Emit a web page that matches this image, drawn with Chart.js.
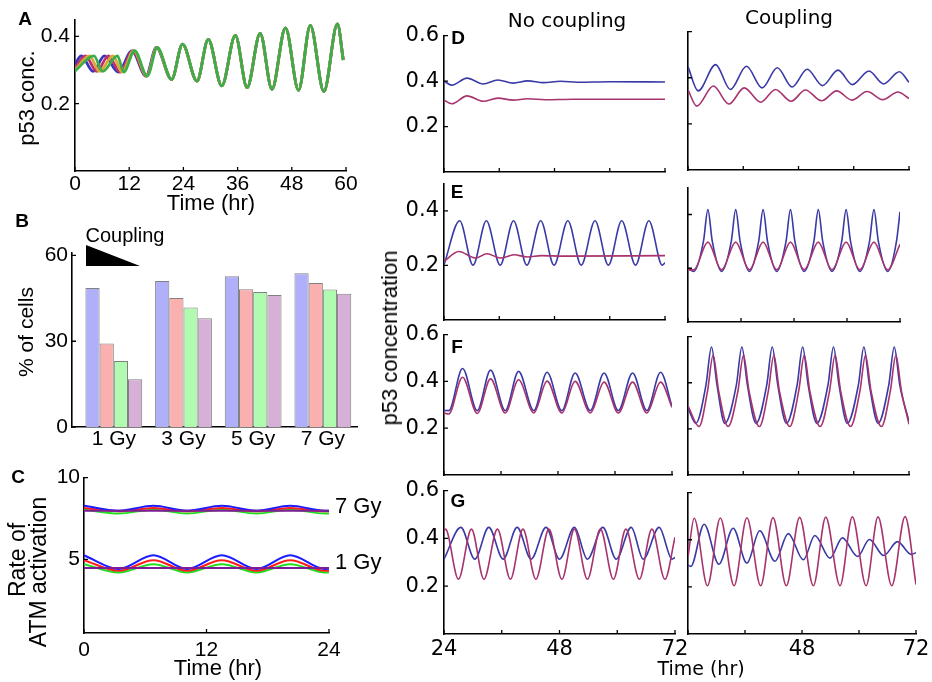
<!DOCTYPE html>
<html>
<head>
<meta charset="utf-8">
<script src="https://cdn.jsdelivr.net/npm/chart.js@4.4.1/dist/chart.umd.min.js"></script>
<style>
  body { margin: 0; background: #fff; width: 932px; height: 682px; position: relative; overflow: hidden;
         font-family: "Liberation Sans", Arial, sans-serif; }
  canvas { position: absolute; }
  .lbl { position: absolute; white-space: nowrap; color: #000; line-height: 1; }
  svg { position: absolute; left: 0; top: 0; }
</style>
</head>
<body>
<svg width="932" height="682"><polygon points="86,245 86,266 140,266" fill="#000"/></svg>
<script>
// ---- A: p53 oscillations, four coupling strengths (time hr, conc) ----
const aTail = [[21.4,0.272],[23.8,0.377],[27.0,0.267],[29.5,0.391],[32.5,0.253],[35.5,0.403],[38.1,0.248],
  [41.0,0.409],[43.6,0.243],[46.6,0.425],[49.5,0.240],[52.1,0.433],[55.1,0.236],[58.1,0.437],[59.4,0.33]];
const aBlue = [[0,0.318],[1.4,0.342],[4.0,0.296],[6.5,0.342],[9.6,0.294],[12.6,0.357],[15.7,0.282],[18.0,0.367]];
const aRed = [[0,0.306],[2.3,0.342],[4.8,0.296],[7.4,0.342],[10.0,0.294],[12.8,0.357],[15.8,0.282],[18.1,0.367]];
const aOrange = [[0,0.300],[3.2,0.342],[5.4,0.296],[8.4,0.342],[10.4,0.294],[13.0,0.358],[15.9,0.282],[18.1,0.367]];
const aGreen = [[0,0.297],[4.2,0.342],[6.1,0.296],[9.4,0.342],[10.8,0.294],[13.2,0.358],[16.0,0.282],[18.2,0.367]];

// ---- B: % of cells per dose ----
const bDoses = ['1 Gy', '3 Gy', '5 Gy', '7 Gy'];
const bBlue = [48.6, 51.1, 52.7, 53.8];
const bRed = [29.2, 45.1, 48.2, 50.4];
const bGreen = [23.1, 41.8, 47.2, 48.1];
const bPurple = [16.7, 38.0, 46.2, 46.6];

// ---- C: rate of ATM activation ----
const cBlue1 = [[0,5.25],[3.4,4.41],[6.8,5.25],[10.1,4.41],[13.5,5.25],[16.9,4.41],[20.2,5.25],[23.6,4.41],[24,4.43]];
const cRed1 = [[0,4.95],[3.4,4.30],[6.8,4.95],[10.1,4.30],[13.5,4.95],[16.9,4.30],[20.2,4.95],[23.6,4.30],[24,4.32]];
const cGreen1 = [[0,4.71],[3.4,4.20],[6.8,4.71],[10.1,4.20],[13.5,4.71],[16.9,4.20],[20.2,4.71],[23.6,4.20],[24,4.21]];
const cPurple1 = [[0,4.47],[24,4.47]];
const cBlue7 = [[0,8.28],[3.4,7.98],[6.8,8.28],[10.1,7.98],[13.5,8.28],[16.9,7.98],[20.2,8.28],[23.6,7.98],[24,7.98]];
const cRed7 = [[0,8.14],[3.4,7.94],[6.8,8.14],[10.1,7.94],[13.5,8.14],[16.9,7.94],[20.2,8.14],[23.6,7.94],[24,7.95]];
const cGreen7 = [[0,8.04],[3.4,7.80],[6.8,8.04],[10.1,7.80],[13.5,8.04],[16.9,7.80],[20.2,8.04],[23.6,7.80],[24,7.81]];
const cPurple7 = [[0,7.98],[24,7.98]];

// ---- D: no coupling / coupling ----
const dNoBlue = [[24,0.400],[25.7,0.382],[29.0,0.413],[32.5,0.387],[35.7,0.405],[39.0,0.391],[42.2,0.401],
  [45.6,0.393],[49.3,0.399],[53,0.395],[60,0.397],[72,0.396]];
const dNoRed = [[24,0.316],[25.7,0.300],[29.0,0.335],[32.5,0.311],[35.7,0.325],[39.0,0.316],[42.2,0.322],
  [46,0.318],[52,0.320],[72,0.320]];
const dCpBlue = [[24,0.448],[26.2,0.343],[30.0,0.457],[33.2,0.349],[36.7,0.450],[40.1,0.356],[43.4,0.443],
  [46.6,0.360],[49.9,0.437],[53.2,0.366],[56.6,0.433],[59.7,0.370],[63.3,0.429],[66.5,0.373],[69.9,0.426],[72,0.38]];
const dCpRed = [[24,0.347],[25.9,0.277],[29.5,0.364],[32.9,0.286],[36.2,0.356],[39.8,0.294],[43.0,0.349],
  [46.4,0.298],[49.5,0.347],[53.0,0.300],[56.3,0.343],[59.6,0.303],[62.9,0.340],[66.3,0.305],[69.6,0.338],[72,0.31]];

// ---- E ----
const eNoBlue = [[24,0.202],[27.4,0.364],[30.3,0.201],[33.2,0.364],[36.2,0.201],[39.1,0.364],[42.0,0.201],
  [45.0,0.364],[47.9,0.201],[50.9,0.364],[53.8,0.201],[56.8,0.364],[59.7,0.201],[62.6,0.364],[65.6,0.201],
  [68.5,0.364],[71.4,0.201],[72,0.21]];
const eNoRed = [[24,0.215],[27.2,0.251],[30.9,0.227],[33.3,0.243],[36.3,0.227],[39.2,0.239],[42.1,0.231],
  [45.2,0.236],[50,0.234],[72,0.236]];
const eCpBlue = [[24,0.200],[25.3,0.188],[27.5,0.30],[28.5,0.418],[29.5,0.30],[31.6,0.188],[33.8,0.30],[34.8,0.418],
  [35.8,0.30],[37.9,0.188],[40.0,0.30],[41.0,0.418],[42.0,0.30],[44.1,0.188],[46.2,0.30],[47.2,0.418],[48.2,0.30],
  [50.3,0.188],[52.5,0.30],[53.5,0.418],[54.5,0.30],[56.6,0.188],[58.8,0.30],[59.8,0.418],[60.8,0.30],[62.9,0.188],
  [65.1,0.30],[66.1,0.418],[67.1,0.30],[69.2,0.188],[71.2,0.30],[72,0.41]];
const eCpRed = [[24,0.194],[25.3,0.194],[28.5,0.297],[31.6,0.194],[34.8,0.297],[37.9,0.194],[41.0,0.297],
  [44.1,0.194],[47.2,0.297],[50.3,0.194],[53.5,0.297],[56.6,0.194],[59.8,0.297],[62.9,0.194],[66.1,0.297],
  [69.2,0.194],[72,0.289]];

// ---- F ----
const fNoBlue = [[24,0.276],[25.0,0.275],[27.9,0.455],[31.0,0.275],[33.8,0.448],[36.9,0.275],[39.7,0.443],
  [42.9,0.275],[45.7,0.439],[48.8,0.275],[51.6,0.436],[54.8,0.275],[57.7,0.436],[60.7,0.275],[63.7,0.436],
  [66.7,0.275],[69.6,0.439],[72,0.293]];
const fNoRed = [[24,0.265],[25.0,0.261],[27.9,0.418],[31.0,0.263],[33.8,0.411],[36.9,0.265],[39.7,0.407],
  [42.9,0.265],[45.7,0.401],[48.8,0.265],[51.6,0.400],[54.8,0.265],[57.7,0.397],[60.7,0.265],[63.7,0.397],
  [66.7,0.265],[69.6,0.397],[72,0.289]];
const fCpBlue = [[24,0.29],[25.7,0.224],[27.9,0.39],[29.1,0.555],[30.3,0.39],[32.0,0.224],[34.5,0.39],[35.7,0.555],
  [36.9,0.39],[38.8,0.224],[41.1,0.39],[42.3,0.555],[43.5,0.39],[45.4,0.224],[47.7,0.39],[48.9,0.555],[50.1,0.39],
  [52.0,0.224],[54.4,0.39],[55.6,0.555],[56.8,0.39],[58.6,0.224],[61.0,0.39],[62.2,0.555],[63.4,0.39],[65.3,0.224],
  [67.6,0.39],[68.8,0.555],[70.0,0.39],[72,0.232]];
const fCpRed = [[24,0.30],[26.4,0.210],[28.25,0.365],[29.45,0.519],[30.65,0.365],[32.7,0.210],[34.85,0.365],
  [36.05,0.519],[37.25,0.365],[39.5,0.210],[41.45,0.365],[42.65,0.519],[43.85,0.365],[46.1,0.210],[48.05,0.365],
  [49.25,0.519],[50.45,0.365],[52.7,0.210],[54.75,0.365],[55.95,0.519],[57.15,0.365],[59.3,0.210],[61.35,0.365],
  [62.55,0.519],[63.75,0.365],[66.0,0.210],[67.95,0.365],[69.15,0.519],[70.35,0.365],[72,0.22]];

// ---- G ----
const gNoBlue = [[24,0.313],[27.5,0.446],[30.4,0.313],[33.3,0.446],[36.3,0.313],[39.2,0.446],[42.1,0.313],
  [45.2,0.446],[48.0,0.313],[51.1,0.446],[53.8,0.313],[57.0,0.446],[59.8,0.313],[62.9,0.446],[65.4,0.313],
  [68.7,0.446],[71.4,0.313],[72,0.32]];
const gNoRed = [[24,0.433],[24.3,0.439],[27.0,0.229],[29.7,0.439],[32.3,0.229],[35.1,0.439],[37.8,0.229],
  [40.4,0.439],[43.1,0.229],[45.8,0.439],[48.5,0.229],[51.1,0.439],[53.8,0.229],[56.5,0.439],[59.2,0.229],
  [61.8,0.439],[64.6,0.229],[67.2,0.439],[69.9,0.229],[72,0.405]];
const gCpBlue = [[24,0.292],[24.6,0.287],[27.4,0.466],[30.5,0.296],[33.5,0.449],[36.4,0.301],[39.1,0.438],
  [42.3,0.309],[45.1,0.426],[48.3,0.315],[50.7,0.418],[53.9,0.322],[56.5,0.408],[59.7,0.329],[62.2,0.401],
  [65.2,0.333],[68.1,0.392],[71.0,0.338],[72,0.345]];
const gCpRed = [[24,0.326],[25.3,0.491],[28.1,0.205],[30.8,0.492],[33.7,0.205],[36.4,0.493],[39.3,0.205],
  [41.9,0.494],[44.7,0.205],[47.5,0.495],[50.4,0.205],[53.0,0.496],[56.0,0.205],[58.6,0.497],[61.5,0.205],
  [64.0,0.497],[66.9,0.205],[69.7,0.498],[72,0.21]];

const hrTicks = [24, 36, 48, 60, 72];
const BLUE = '#3a3aa6', RED = '#a8346e';

// short tick marks drawn inward from the axes
const innerTicks = {
  id: 'innerTicks',
  afterDraw(chart, args, opts) {
    const ctx = chart.ctx, a = chart.chartArea, len = opts.len || 4;
    ctx.save();
    ctx.strokeStyle = '#000';
    ctx.lineWidth = 1.3;
    ctx.beginPath();
    if (opts.x !== false) chart.scales.x.ticks.forEach(t => {
      const p = chart.scales.x.getPixelForValue(t.value);
      ctx.moveTo(p, a.bottom); ctx.lineTo(p, a.bottom - len);
    });
    if (opts.y !== false) chart.scales.y.ticks.forEach(t => {
      const p = chart.scales.y.getPixelForValue(t.value);
      ctx.moveTo(a.left, p); ctx.lineTo(a.left + len, p);
    });
    ctx.stroke();
    ctx.restore();
  }
};

function axis(min, max, ticks, labelFn, font, padding) {
  return {
    type: 'linear', min, max, offset: false,
    grid: { display: false, drawTicks: false },
    border: { display: true, color: '#000', width: 1.6 },
    afterBuildTicks: s => { s.ticks = ticks.map(v => ({ value: v })); },
    ticks: { autoSkip: false, maxRotation: 0, padding, color: '#000', font, callback: labelFn }
  };
}

// datasets listed first are painted on top
function line(pts, color, width) {
  return { data: pts.map(p => ({ x: p[0], y: p[1] })), borderColor: color, borderWidth: width,
           pointRadius: 0, fill: false, cubicInterpolationMode: 'monotone' };
}

// canvas sized so that the plot area lands on box {l,t,r,b}
function place(box, pad) {
  const c = document.createElement('canvas');
  const w = box.r - box.l + pad.left + pad.right, h = box.b - box.t + pad.top + pad.bottom;
  c.width = w; c.height = h;
  c.style.left = (box.l - pad.left) + 'px';
  c.style.top = (box.t - pad.top) + 'px';
  c.style.width = w + 'px'; c.style.height = h + 'px';
  document.body.appendChild(c);
  return c;
}

function makeChart(box, pad, type, datasets, xAxis, yAxis, tickOpts) {
  const c = place(box, pad);
  xAxis.afterFit = s => { s.height = pad.bottom; };
  yAxis.afterFit = s => { s.width = pad.left; };
  return new Chart(c, {
    type, data: { datasets },
    options: {
      responsive: false, animation: false, events: [],
      layout: { padding: { top: pad.top, right: pad.right, left: 0, bottom: 0 } },
      plugins: { legend: { display: false }, tooltip: { enabled: false }, innerTicks: tickOpts || {} },
      scales: { x: xAxis, y: yAxis }
    },
    plugins: [innerTicks]
  });
}

function label(text, x, y, o = {}) {
  const d = document.createElement('div');
  d.className = 'lbl';
  d.textContent = text;
  d.style.left = x + 'px'; d.style.top = y + 'px';
  d.style.fontSize = (o.size || 21) + 'px';
  if (o.font) d.style.fontFamily = o.font;
  if (o.bold) d.style.fontWeight = 'bold';
  d.style.transform = (o.left ? 'translate(0,-50%)' : 'translate(-50%,-50%)') + (o.rot ? ' rotate(-90deg)' : '');
  document.body.appendChild(d);
}

const LIB = { family: 'Liberation Sans', size: 21 };
const DJV = { family: 'DejaVu Sans', size: 21 };
const num = show => v => show.includes(v) ? String(v) : '';
const none = () => '';

// A
makeChart({ l: 75, t: 17, r: 346, b: 171 }, { left: 60, top: 15, right: 20, bottom: 30 }, 'line',
  [line(aGreen.concat(aTail), '#3cae48', 2.8), line(aOrange.concat(aTail), '#d8a838', 2.8),
   line(aRed.concat(aTail), '#c0306a', 2.8), line(aBlue.concat(aTail), '#3636c0', 2.8)],
  axis(0, 60, [0, 12, 24, 36, 48, 60], num([0, 12, 24, 36, 48, 60]), LIB, 1),
  axis(0, 0.45, [0.2, 0.4], num([0.2, 0.4]), LIB, 5));

// B
const bColors = ['#b0b0fa', '#fbb0b0', '#b0fbb0', '#d7b0d7'];
makeChart({ l: 72, t: 251, r: 357, b: 427 }, { left: 55, top: 15, right: 20, bottom: 30 }, 'bar',
  [bBlue, bRed, bGreen, bPurple].map((vals, i) => ({
    data: vals.map((v, j) => ({ x: j, y: v })), backgroundColor: bColors[i], borderColor: '#808080',
    borderWidth: 1, categoryPercentage: 0.815, barPercentage: 1
  })),
  axis(-0.6, 3.49, [0, 1, 2, 3], v => bDoses[v], LIB, 0),
  axis(0, 61, [0, 30, 60], num([0, 30, 60]), LIB, 4), { x: false });

// C
makeChart({ l: 84, t: 476, r: 329, b: 633 }, { left: 50, top: 15, right: 20, bottom: 30 }, 'line',
  [line(cPurple7, '#7c1c96', 2), line(cBlue7, '#1c1cff', 2), line(cRed7, '#ff1c1c', 2), line(cGreen7, '#22dd22', 2),
   line(cPurple1, '#7c1c96', 2), line(cBlue1, '#1c1cff', 2), line(cRed1, '#ff1c1c', 2), line(cGreen1, '#22dd22', 2)],
  axis(0, 24, [0, 12, 24], num([0, 12, 24]), LIB, 5),
  axis(0.5, 10, [5, 10], num([5, 10]), LIB, 4));

// D-G: left column (no coupling) and right column (coupling)
const padL = { left: 60, top: 14, right: 18, bottom: 30 };
const padR = { left: 14, top: 14, right: 18, bottom: 30 };
const rows = [
  { L: { l: 444, t: 32, r: 665, b: 172 }, R: { l: 688, t: 28, r: 909, b: 170 }, max: 0.6, yl: [0.2, 0.4, 0.6],
    no: [dNoBlue, dNoRed], cp: [dCpBlue, dCpRed] },
  { L: { l: 444, t: 180, r: 665, b: 320 }, R: { l: 688, t: 184, r: 900, b: 322 }, max: 0.5, yl: [0.2, 0.4],
    no: [eNoBlue, eNoRed], cp: [eCpBlue, eCpRed] },
  { L: { l: 444, t: 331, r: 672, b: 475 }, R: { l: 688, t: 333, r: 909, b: 475 }, max: 0.6, yl: [0.2, 0.4, 0.6],
    no: [fNoBlue, fNoRed], cp: [fCpBlue, fCpRed] },
  { L: { l: 444, t: 487, r: 675, b: 634 }, R: { l: 688, t: 489, r: 916, b: 634 }, max: 0.6, yl: [0.2, 0.4, 0.6],
    no: [gNoBlue, gNoRed], cp: [gCpBlue, gCpRed], last: true }
];
rows.forEach(row => {
  makeChart(row.L, padL, 'line', [line(row.no[1], RED, 1.6), line(row.no[0], BLUE, 1.6)],
    axis(24, 72, hrTicks, row.last ? num([24, 48, 72]) : none, DJV, 3),
    axis(0, row.max, row.yl, num(row.yl), DJV, 5));
  makeChart(row.R, padR, 'line', [line(row.cp[1], RED, 1.6), line(row.cp[0], BLUE, 1.6)],
    axis(24, 72, hrTicks, row.last ? num([48, 72]) : none, DJV, 3),
    axis(0, row.max, row.yl, none, DJV, 5));
});

// panel letters and titles
[['A', 25, 18], ['B', 22, 220], ['C', 18, 476], ['D', 458, 37], ['E', 457, 191], ['F', 457, 346], ['G', 458, 500]]
  .forEach(([t, x, y]) => label(t, x, y, { bold: true, size: 19 }));
label('p53 conc.', 27, 98, { rot: true, size: 22 });
label('Time (hr)', 211, 203, { size: 22 });
label('Coupling', 125, 235, { size: 20 });
label('% of cells', 25, 332, { rot: true, size: 21 });
label('Rate of', 17, 560, { rot: true, size: 23 });
label('ATM activation', 38, 572, { rot: true, size: 23 });
label('7 Gy', 335, 506, { left: true, size: 22 });
label('1 Gy', 335, 562, { left: true, size: 22 });
label('Time (hr)', 218, 668, { size: 22 });
label('No coupling', 567, 20, { font: 'DejaVu Sans', size: 20 });
label('Coupling', 789, 17, { font: 'DejaVu Sans', size: 20 });
label('p53 concentration', 390, 338, { rot: true, size: 22 });
label('Time (hr)', 701, 668, { font: 'DejaVu Sans', size: 19 });
</script>
</body>
</html>
